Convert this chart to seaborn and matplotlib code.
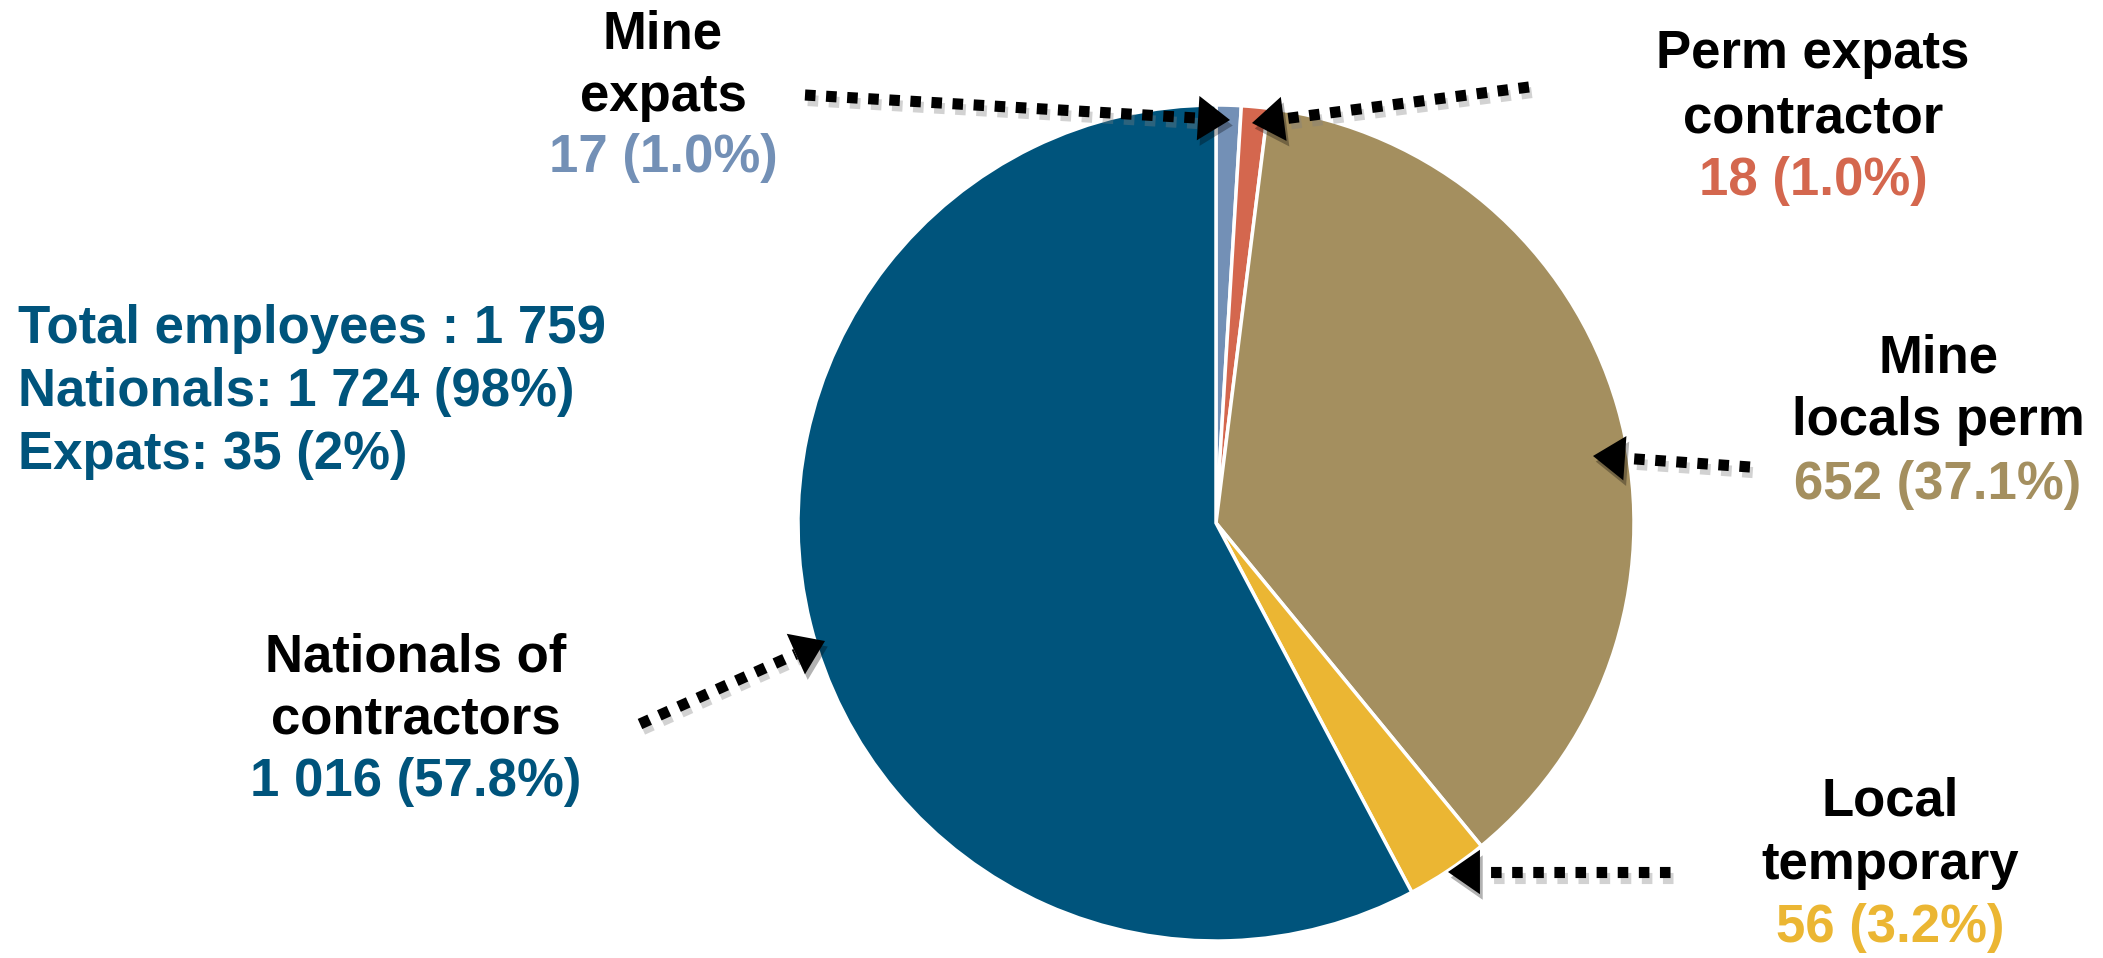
import math
import matplotlib
matplotlib.use("Agg")
import matplotlib.pyplot as plt
import matplotlib.patheffects as pe
import seaborn as sns

# --- DATA ---
categories = ["Mine expats", "Perm expats contractor", "Mine locals perm",
              "Local temporary", "Nationals of contractors"]
counts = [17, 18, 652, 56, 1016]
value_labels = ["17 (1.0%)", "18 (1.0%)", "652 (37.1%)", "56 (3.2%)", "1 016 (57.8%)"]
slice_colors = ["#7390B6", "#D4674E", "#A48F5F", "#EBB633", "#00547C"]
summary_lines = ["Total employees : 1 759", "Nationals: 1 724 (98%)", "Expats: 35 (2%)"]

# --- LAYOUT (pixel coords, y measured from top) ---
W, H = 2103, 958
pie_center = (1216, 523)
pie_radius = 418
label_lines = [["Mine", "expats"], ["Perm expats", "contractor"], ["Mine", "locals perm"],
               ["Local", "temporary"], ["Nationals of", "contractors"]]
label_pos = [(663, [34, 97, 158]), (1813, [54, 118, 181]), (1938, [358, 421, 485]),
             (1890, [802, 865, 928]), (416, [657, 720, 782])]
arrow_pos = [((805, 95), (1230, 120)), ((1529, 87), (1252, 123)), ((1750, 467), (1593, 456)),
             ((1670, 872), (1448, 872)), ((640, 724), (825, 641))]

sns.set_theme(style="white")
plt.rcParams['font.family'] = ['Liberation Sans', 'DejaVu Sans']

fig = plt.figure(figsize=(W / 100, H / 100), dpi=100)
ax = fig.add_axes([0, 0, 1, 1])


def Y(y):
    return H - y


palette = sns.color_palette(slice_colors)
ax.pie(counts, colors=palette, startangle=90, counterclock=False,
       center=(pie_center[0], Y(pie_center[1])), radius=pie_radius,
       wedgeprops=dict(edgecolor="white", linewidth=2.5))
ax.set_xlim(0, W)
ax.set_ylim(0, H)
ax.set_aspect("equal")
ax.axis("off")

FS = 38

# category labels + coloured values
for lines, val, col, (x, ys) in zip(label_lines, value_labels, palette, label_pos):
    for txt, y in zip(lines, ys[:2]):
        ax.text(x, Y(y), txt, ha="center", va="center", fontsize=FS,
                fontweight="bold", color="black")
    ax.text(x, Y(ys[2]), val, ha="center", va="center", fontsize=FS,
            fontweight="bold", color=col)

# summary block
for i, line in enumerate(summary_lines):
    ax.text(18, Y(329 + i * 63), line, ha="left", va="center", fontsize=FS,
            fontweight="bold", color=slice_colors[-1])

# dotted arrows with soft shadow
shadow = [pe.SimpleLineShadow(offset=(2, -4), shadow_color="gray", alpha=0.35), pe.Normal()]
head_len = 32
for (x0, y0), (x1, y1) in arrow_pos:
    L = math.hypot(x1 - x0, y1 - y0)
    ux, uy = (x1 - x0) / L, (y1 - y0) / L
    bx, by = x1 - ux * head_len, y1 - uy * head_len
    ax.plot([x0, bx], [Y(y0), Y(by)], color="black", lw=8,
            linestyle=(0, (0.95, 0.95)), dash_capstyle="butt", path_effects=shadow)
    ax.annotate("", xy=(x1, Y(y1)), xytext=(bx, Y(by)),
                arrowprops=dict(arrowstyle="-|>,head_length=1.15,head_width=0.8",
                                mutation_scale=20, color="black", lw=0,
                                shrinkA=0, shrinkB=0,
                                path_effects=[pe.SimplePatchShadow(offset=(2, -4), alpha=0.3), pe.Normal()]))

fig.savefig("out.png", dpi=100)
